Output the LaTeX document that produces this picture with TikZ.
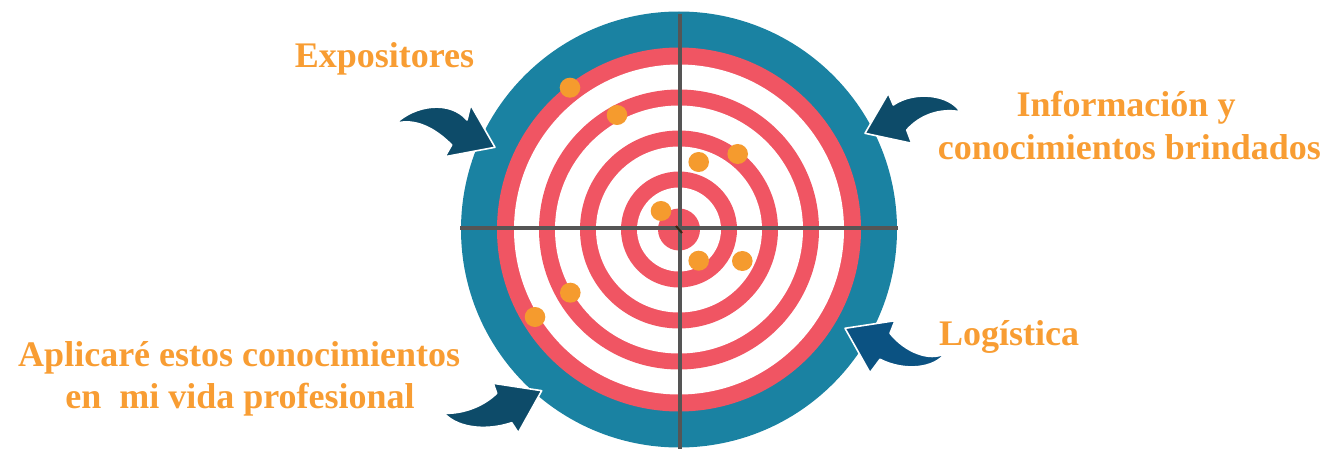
\documentclass[tikz,border=0pt]{standalone}
\usepackage{fontspec}
\setmainfont{Liberation Serif}
\definecolor{ringblue}{HTML}{1A82A2}
\definecolor{ringred}{HTML}{F05563}
\definecolor{txtorange}{HTML}{F89D33}
\definecolor{dotorange}{HTML}{F59B2E}
\definecolor{arrowdark}{HTML}{0D4B69}
\definecolor{arrowblue}{HTML}{0B5282}
\definecolor{axisgray}{HTML}{555555}
\tikzset{
  lbl/.style={anchor=base, inner sep=0pt, text=txtorange, font=\bfseries\fontsize{36}{43}\selectfont},
  hit/.style={fill=dotorange},
  curvedarrow/.style={fill=arrowdark, draw=white, line width=1.6pt, line join=round},
  axisline/.style={draw=axisgray, line width=4pt},
}
\begin{document}
\begin{tikzpicture}[x=1pt,y=-1pt]
\useasboundingbox (0,0) rectangle (1334,449);
\coordinate (c) at (679,229.5);
% target
\fill[ringblue] (c) circle (218);
\fill[ringred] (c) circle (182);
\fill[white] (c) circle (165);
\fill[ringred] (c) circle (140);
\fill[white] (c) circle (124);
\fill[ringred] (c) circle (99);
\fill[white] (c) circle (83);
\fill[ringred] (c) circle (58);
\fill[white] (c) circle (42);
\fill[ringred] (c) circle (21);
% hits
\foreach \p in {(570,87.7),(617,115),(698.7,162),(737.7,154),(661,211),(698.7,260.7),(742.3,261),(570.3,292.7),(535,317)}
  \fill[hit] \p ellipse (10.3 and 10);
% axes
\coordinate (vt) at (680,14);
\coordinate (vb) at (680,449);
\coordinate (hl) at (460,228);
\coordinate (hr) at (898,228);
\draw[axisline] (vt) -- (vb);
\draw[axisline] (hl) -- (hr);
\draw[draw=black!70!brown, line width=2pt] (676,226) -- (682,233);
% arrows
\path[curvedarrow] (396,123.3) .. controls (415,105) and (450,100) .. (467,120) -- (470.7,105) -- (495,147.3) -- (445,156.7) -- (451.7,145) .. controls (435,128) and (415,118) .. cycle;
\path[curvedarrow] (960,111.7) .. controls (950,95) and (915,90) .. (893.3,105) -- (888.3,93.3) -- (865,133.3) -- (911.7,143.3) -- (906.7,130) .. controls (920,115) and (940,108) .. cycle;
\path[curvedarrow, fill=arrowblue] (845,328.3) -- (895,320.7) -- (890,333.3) .. controls (905,352) and (930,362) .. (945,353.3) .. controls (935,368) and (905,372) .. (880,359.3) -- (870,372.7) -- cycle;
\path[curvedarrow] (444,413.3) .. controls (465,414) and (485,405) .. (496.7,393.3) -- (493.3,383.3) -- (541.7,390.7) -- (518.3,432.7) -- (511.7,422.7) .. controls (490,430) and (460,430) .. cycle;
% labels
\node[lbl] (expo) at (384.5,67.3) {Expositores};
\node[lbl] (info1) at (1126,116.7) {Información y};
\node[lbl] (info2) at (1129.3,160) {conocimientos brindados};
\node[lbl] (logi) at (1009,345) {Logística};
\node[lbl] (apli1) at (239.2,366) {Aplicaré estos conocimientos};
\node[lbl] (apli2) at (240,408.3) {en\ \ mi vida profesional};
\end{tikzpicture}
\end{document}
